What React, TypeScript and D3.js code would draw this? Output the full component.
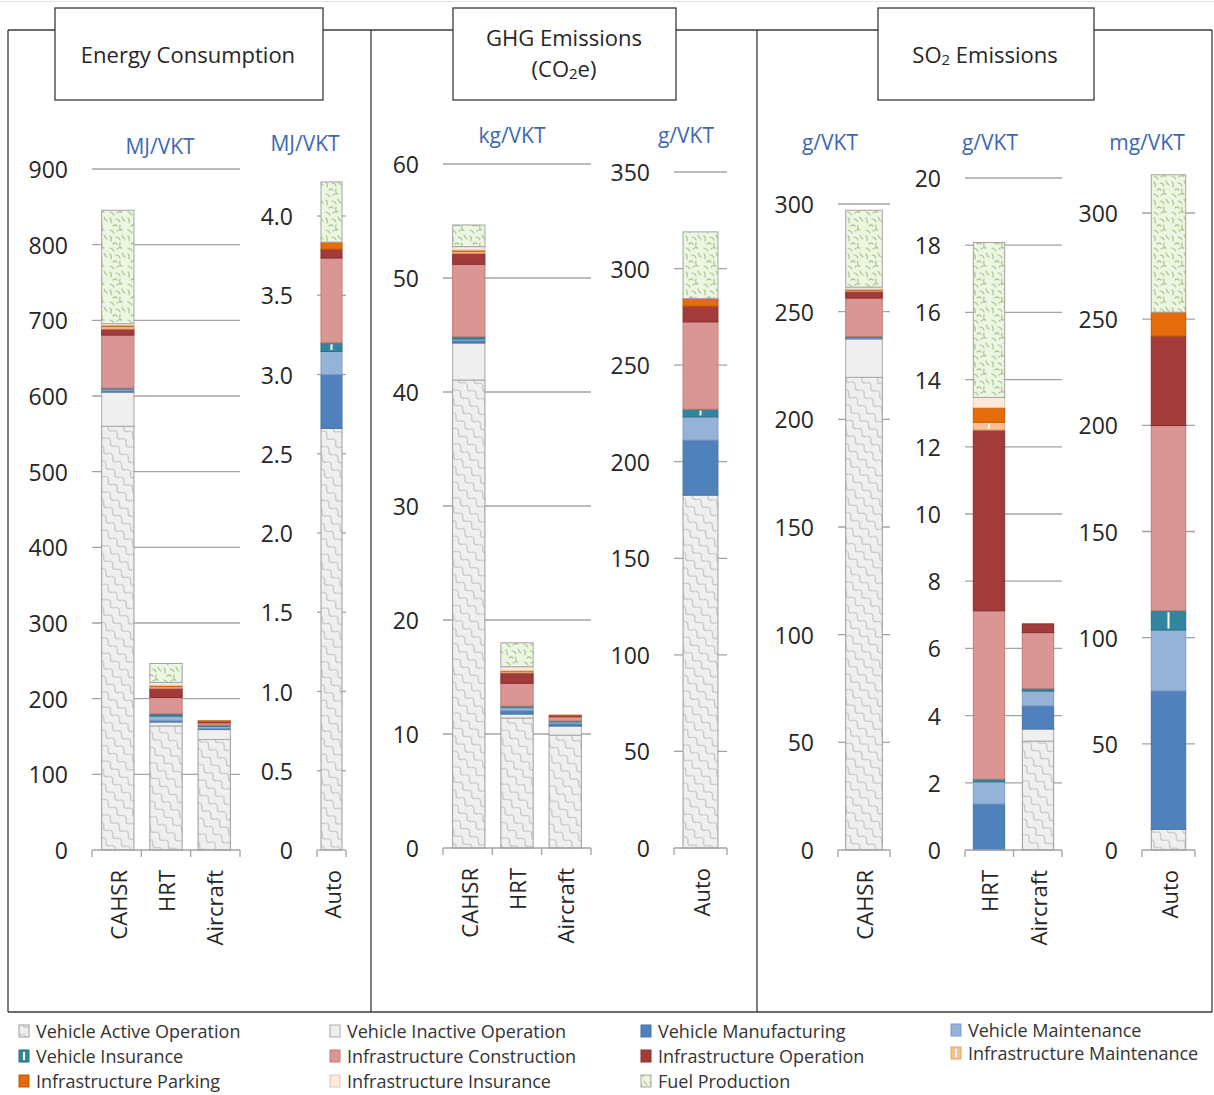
import React from 'react';
import * as d3 from 'd3';

// Life-cycle components, stacked bottom to top
const components = [
  'Vehicle Active Operation',
  'Vehicle Inactive Operation',
  'Vehicle Manufacturing',
  'Vehicle Maintenance',
  'Vehicle Insurance',
  'Infrastructure Construction',
  'Infrastructure Operation',
  'Infrastructure Maintenance',
  'Infrastructure Parking',
  'Infrastructure Insurance',
  'Fuel Production',
];

const railModes = ['CAHSR', 'HRT', 'Aircraft'];
const autoMode = ['Auto'];

// Energy consumption, MJ/VKT
const energyCAHSR = [560, 45, 2, 2, 1.5, 70, 8, 3, 2, 2, 150];
const energyHRT = [164, 5, 2, 6, 3, 21.5, 12, 2, 2, 4, 25];
const energyAircraft = [146, 13, 2, 2, 2, 3, 1.5, 0, 1.5, 0, 0];
const energyAuto = [2.66, 0, 0.34, 0.145, 0.055, 0.535, 0.055, 0, 0.045, 0, 0.38];

// GHG emissions (CO2e): rail/air in kg/VKT, auto in g/VKT
const ghgCAHSR = [41.05, 3.25, 0.2, 0.15, 0.2, 6.35, 0.95, 0.15, 0.15, 0.3, 1.9];
const ghgHRT = [11.4, 0.35, 0.3, 0.25, 0.15, 2.0, 0.9, 0.1, 0.1, 0.35, 2.1];
const ghgAircraft = [9.9, 0.8, 0.2, 0.15, 0.1, 0.35, 0.12, 0, 0.05, 0, 0];
const ghgAuto = [182.7, 0, 28.5, 12, 4, 45.2, 8.1, 0, 4, 0, 34.5];

// SO2 emissions: CAHSR, HRT, Aircraft in g/VKT, auto in mg/VKT
const so2CAHSR = [219.5, 17.8, 0.4, 0.4, 0.4, 17.8, 3.1, 0.5, 0.5, 1, 35.7];
const so2HRT = [0, 0, 1.37, 0.66, 0.08, 5.01, 5.38, 0.23, 0.44, 0.3, 4.61];
const so2Aircraft = [3.24, 0.36, 0.69, 0.44, 0.08, 1.66, 0.26, 0, 0, 0, 0];
const so2Auto = [9.75, 0, 65.15, 28.7, 9.1, 87.2, 42.1, 0, 11.3, 0, 64.7];

const fills = [
  'url(#pActive)', '#efefef', '#4f81bd', '#95b3d7', '#31859c', '#d99694',
  '#a33b3b', '#fac090', '#e46c0a', '#fde9d9', 'url(#pFuel)',
];
const strokes = [
  '#9c9c9c', '#a8a8a8', '#46729f', '#7f9cc0', '#2a7386', '#c27c6c',
  '#862f2f', '#dba577', '#bd5808', '#e0c6b8', '#a3a3a3',
];
const markedComponents = new Set(['Vehicle Insurance', 'Infrastructure Maintenance']);

const FONT = '"Open Sans", Lato, sans-serif';
const TEXT = '#262626';
const UNIT = '#3d68b3';
const GRID = '#a3a3a3';
const FRAME = '#3a3a3a';

type Chart = {
  modes: string[];
  values: number[][];
  unit: string;
  unitX: number;
  unitY: number;
  domain: [number, number];
  step: number;
  decimals: number;
  y0: number;
  yTop: number;
  x0: number;
  x1: number;
  padInner: number;
  padOuter: number;
};

const charts: Chart[] = [
  { modes: railModes, values: [energyCAHSR, energyHRT, energyAircraft], unit: 'MJ/VKT', unitX: 160, unitY: 146,
    domain: [0, 900], step: 100, decimals: 0, y0: 850, yTop: 169, x0: 92, x1: 240, padInner: 0.33, padOuter: 0.2 },
  { modes: autoMode, values: [energyAuto], unit: 'MJ/VKT', unitX: 305, unitY: 143,
    domain: [0, 4], step: 0.5, decimals: 1, y0: 850, yTop: 216, x0: 317, x1: 346, padInner: 0, padOuter: 0.19 },
  { modes: railModes, values: [ghgCAHSR, ghgHRT, ghgAircraft], unit: 'kg/VKT', unitX: 512, unitY: 135,
    domain: [0, 60], step: 10, decimals: 0, y0: 848, yTop: 164, x0: 443, x1: 591, padInner: 0.33, padOuter: 0.2 },
  { modes: autoMode, values: [ghgAuto], unit: 'g/VKT', unitX: 686, unitY: 135,
    domain: [0, 350], step: 50, decimals: 0, y0: 848, yTop: 172, x0: 674, x1: 727, padInner: 0, padOuter: 0.26 },
  { modes: ['CAHSR'], values: [so2CAHSR], unit: 'g/VKT', unitX: 830, unitY: 142,
    domain: [0, 300], step: 50, decimals: 0, y0: 850, yTop: 204, x0: 838, x1: 890, padInner: 0, padOuter: 0.21 },
  { modes: ['HRT', 'Aircraft'], values: [so2HRT, so2Aircraft], unit: 'g/VKT', unitX: 990, unitY: 142,
    domain: [0, 20], step: 2, decimals: 0, y0: 850, yTop: 178, x0: 965, x1: 1062, padInner: 0.36, padOuter: 0.17 },
  { modes: autoMode, values: [so2Auto], unit: 'mg/VKT', unitX: 1147, unitY: 142,
    domain: [0, 300], step: 50, decimals: 0, y0: 850, yTop: 213, x0: 1142, x1: 1195, padInner: 0, padOuter: 0.27 },
];

function StackedChart({ c }: { c: Chart }) {
  const y = d3.scaleLinear().domain(c.domain).range([c.y0, c.yTop]);
  const x = d3.scaleBand<string>().domain(c.modes).range([c.x0, c.x1])
    .paddingInner(c.padInner).paddingOuter(c.padOuter);
  const rows = c.modes.map((m, i) => {
    const r: Record<string, any> = { mode: m };
    components.forEach((k, j) => { r[k] = c.values[i][j]; });
    return r;
  });
  const layers = d3.stack<Record<string, any>>().keys(components)(rows);
  const ticks = d3.range(c.domain[0], c.domain[1] + c.step / 2, c.step);
  const fmt = (v: number) => (v === 0 ? '0' : d3.format(`.${c.decimals}f`)(v));
  const n = c.modes.length;
  const catTicks = d3.range(n + 1).map((i) => c.x0 + (i * (c.x1 - c.x0)) / n);

  return (
    <g>
      <text x={c.unitX} y={c.unitY} textAnchor="middle" dominantBaseline="central"
        fontSize={21} fill={UNIT}>{c.unit}</text>
      {ticks.map((t) => (
        <g key={t}>
          {t > 0 && <line x1={c.x0} x2={c.x1} y1={y(t)} y2={y(t)} stroke={GRID} strokeWidth={1.3} />}
          <text x={c.x0 - 24} y={y(t)} textAnchor="end" dominantBaseline="central"
            fontSize={23} fill={TEXT}>{fmt(t)}</text>
        </g>
      ))}
      {layers.map((layer, li) => (
        <g key={layer.key}>
          {layer.map((d, bi) => {
            const top = y(d[1]);
            const h = y(d[0]) - top;
            if (h <= 0.05) return null;
            const bx = x(c.modes[bi]) as number;
            const bw = x.bandwidth();
            return (
              <g key={bi}>
                <rect x={bx} y={top} width={bw} height={h} fill={fills[li]}
                  stroke={strokes[li]} strokeWidth={h < 2 ? 0.6 : 1} />
                {markedComponents.has(layer.key) && h > 2.5 && (
                  <rect x={bx + bw / 2 - 1} y={top + 1.5} width={2} height={h - 3} fill="#ffffff" />
                )}
              </g>
            );
          })}
        </g>
      ))}
      <line x1={c.x0} x2={c.x1} y1={c.y0} y2={c.y0} stroke={GRID} strokeWidth={1.3} />
      {catTicks.map((tx, i) => (
        <line key={i} x1={tx} x2={tx} y1={c.y0} y2={c.y0 + 7} stroke={GRID} strokeWidth={1.3} />
      ))}
      {c.modes.map((m) => (
        <text key={m} transform={`translate(${(x(m) as number) + x.bandwidth() / 2},${c.y0 + 20}) rotate(-90)`}
          textAnchor="end" dominantBaseline="central" fontSize={22} fill={TEXT}>{m}</text>
      ))}
    </g>
  );
}

const panelLines = [8, 371, 757, 1212];
const titleBoxes = [
  { x: 55, w: 268 },
  { x: 453, w: 223 },
  { x: 878, w: 216 },
];
const legendCols = [19, 330, 641, 951];
const legendRows = [1031, 1056, 1081];

export default function App() {
  return (
    <svg width={1214} height={1095} viewBox="0 0 1214 1095"
      style={{ position: 'absolute', left: 0, top: 0, background: '#ffffff' }}
      fontFamily={FONT}>
      <defs>
        <pattern id="pActive" width={12} height={10} patternUnits="userSpaceOnUse" patternTransform="rotate(42)">
          <rect width={12} height={10} fill="#efefef" />
          <path d="M0,5 C2,2.2 4,2.2 6,5 S10,7.8 12,5" fill="none" stroke="#c2c2c2" strokeWidth={1.3} />
          <path d="M0,6.4 C2,3.6 4,3.6 6,6.4 S10,9.2 12,6.4" fill="none" stroke="#fbfbfb" strokeWidth={0.8} />
        </pattern>
        <pattern id="pFuel" width={18} height={18} patternUnits="userSpaceOnUse">
          <rect width={18} height={18} fill="#edf6e3" />
          <g fill="none" stroke="#a9c98d" strokeWidth={1.2} strokeLinecap="round">
            <path d="M2,2 q2,2 1,5" />
            <path d="M8,3 q3,0 4,3" />
            <path d="M14,1 q1,3 3,4" />
            <path d="M5,10 q2,-2 4,0" />
            <path d="M12,9 q-1,3 1,5" />
            <path d="M2,14 q3,1 4,3" />
            <path d="M9,15 q2,-2 5,-1" />
          </g>
        </pattern>
      </defs>

      <line x1={0} x2={1214} y1={1.5} y2={1.5} stroke="#e4e4e4" strokeWidth={1} />

      {/* panel frame */}
      <line x1={8} x2={1212} y1={30} y2={30} stroke={FRAME} strokeWidth={1.3} />
      <line x1={8} x2={1212} y1={1012} y2={1012} stroke={FRAME} strokeWidth={1.3} />
      {panelLines.map((px) => (
        <line key={px} x1={px} x2={px} y1={30} y2={1012} stroke={FRAME} strokeWidth={1.3} />
      ))}
      {titleBoxes.map((b) => (
        <rect key={b.x} x={b.x} y={8} width={b.w} height={92} fill="#ffffff" stroke={FRAME} strokeWidth={1.3} />
      ))}
      <text x={188} y={54} textAnchor="middle" dominantBaseline="central" fontSize={22} fill={TEXT}>
        Energy Consumption
      </text>
      <text x={564} y={37} textAnchor="middle" dominantBaseline="central" fontSize={22} fill={TEXT}>
        GHG Emissions
      </text>
      <text x={564} y={68} textAnchor="middle" dominantBaseline="central" fontSize={22} fill={TEXT}>
        (CO<tspan fontSize={15} dy={5}>2</tspan><tspan dy={-5}>e)</tspan>
      </text>
      <text x={985} y={54} textAnchor="middle" dominantBaseline="central" fontSize={22} fill={TEXT}>
        SO<tspan fontSize={15} dy={5}>2</tspan><tspan dy={-5}> Emissions</tspan>
      </text>

      {charts.map((c, i) => <StackedChart key={i} c={c} />)}

      {/* legend */}
      {components.map((name, i) => {
        const lx = legendCols[i % 4];
        const ly = legendRows[Math.floor(i / 4)] - (i % 4 === 3 ? 2 * Math.floor(i / 4) + 1 : 0);
        return (
          <g key={name}>
            <rect x={lx} y={ly - 6} width={10} height={12} fill={fills[i]} stroke={strokes[i]} strokeWidth={1} />
            {markedComponents.has(name) && (
              <rect x={lx + 4} y={ly - 4} width={2} height={8} fill="#ffffff" />
            )}
            <text x={lx + 17} y={ly} dominantBaseline="central" fontSize={18} fill="#333333">{name}</text>
          </g>
        );
      })}
    </svg>
  );
}
